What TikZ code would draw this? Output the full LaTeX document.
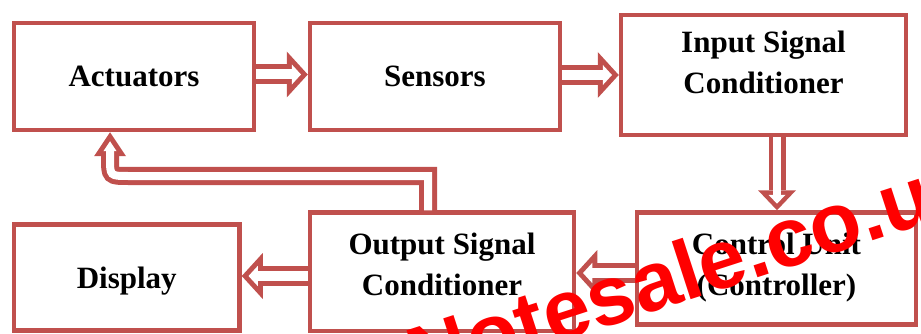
\documentclass[tikz,border=0pt]{standalone}
\usepackage{fontspec}
\setmainfont{Liberation Serif}
\newfontfamily\wmfont{Liberation Sans}
\usetikzlibrary{arrows.meta,calc}
\definecolor{bord}{HTML}{C0504D}
\definecolor{wmred}{HTML}{FF0000}
\tikzset{
  box/.style={draw=bord, line width=4.5pt, fill=white, inner sep=0pt,
    font=\fontsize{31}{41}\selectfont\bfseries, align=center},
  onel/.style={text height=21pt, text depth=0pt},
  twol/.style={text height=62pt, text depth=#1},
  barrow/.style={
    preaction={draw=bord, line width=20pt, shorten >=0pt,
      -{Triangle[length=21pt 0 0, width=46pt 0 0, line width=0pt]}},
    draw=white, line width=10pt, shorten >=6.77pt,
    -{Triangle[length=9.23pt 0 0, width=20.2pt 0 0, line width=0pt]}},
  barrowv/.style={
    preaction={draw=bord, line width=17pt, shorten >=0pt,
      -{Triangle[length=20pt 0 0, width=38pt 0 0, line width=0pt]}},
    draw=white, line width=8pt, shorten >=6.54pt,
    -{Triangle[length=8.96pt 0 0, width=17pt 0 0, line width=0pt]}},
  fbarrow/.style={
    preaction={draw=bord, line width=18pt, shorten >=0pt,
      -{Triangle[length=24pt 0 0, width=32pt 0 0, line width=0pt]}},
    draw=white, line width=8pt, shorten >=9pt,
    -{Triangle[length=10pt 0 0, width=13.3pt 0 0, line width=0pt]}},
  wm/.style={text=wmred, inner sep=0pt, font=\wmfont\bfseries\fontsize{84}{84}\selectfont}
}
\begin{document}
\begin{tikzpicture}[x=1pt,y=-1pt]
\useasboundingbox (0,0) rectangle (921,334);
\clip (0,0) rectangle (921,334);
% boxes
\node[box,onel,minimum width=240pt,minimum height=107pt] (act) at (134,76.5) {Actuators};
\node[box,onel,minimum width=250pt,minimum height=107pt] (sen) at (435,76.5) {Sensors};
\node[box,twol=24pt,minimum width=285pt,minimum height=120pt] (isc) at (763.5,75) {Input Signal\\Conditioner};
\node[box,twol=9pt,minimum width=279pt,minimum height=112pt] (cu) at (776.5,268.5) {Control Unit\\(Controller)};
\node[box,twol=15.5pt,minimum width=264pt,minimum height=118.5pt] (osc) at (442,271.75) {Output Signal\\Conditioner};
\node[box,onel,minimum width=225.5pt,minimum height=106pt] (disp) at (126.75,277.5) {Display};
% arrows
\draw[barrow] ([yshift=2pt]act.east) -- ([yshift=2pt]sen.west);
\draw[barrow] ([yshift=1.5pt]sen.east) -- ([yshift=1.5pt]sen.east -| isc.west);
\draw[barrowv] ([xshift=13.5pt]isc.south) -- ([xshift=13.5pt]isc.south |- cu.north);
\draw[barrow] ([yshift=-4.5pt]cu.west) -- ([yshift=-4.5pt]cu.west -| osc.east);
\draw[barrow] ([yshift=-4.25pt]osc.west) -- ([yshift=-4.25pt]osc.west -| disp.east);
% feedback
\coordinate (fbturn) at (428,176);
\coordinate (fbbend) at (128,176);
\coordinate (fbctl) at (110,176);
\coordinate (fbup) at (110,158);
\draw[fbarrow] ([xshift=-14pt]osc.north) -- (fbturn) -- (fbbend) .. controls (fbctl) .. (fbup) -- ([xshift=-24pt]act.south);
% watermark
\node[wm, anchor=base west, rotate=18] (wmark) at (419,388) {Notesale.co.uk};
\end{tikzpicture}
\end{document}
